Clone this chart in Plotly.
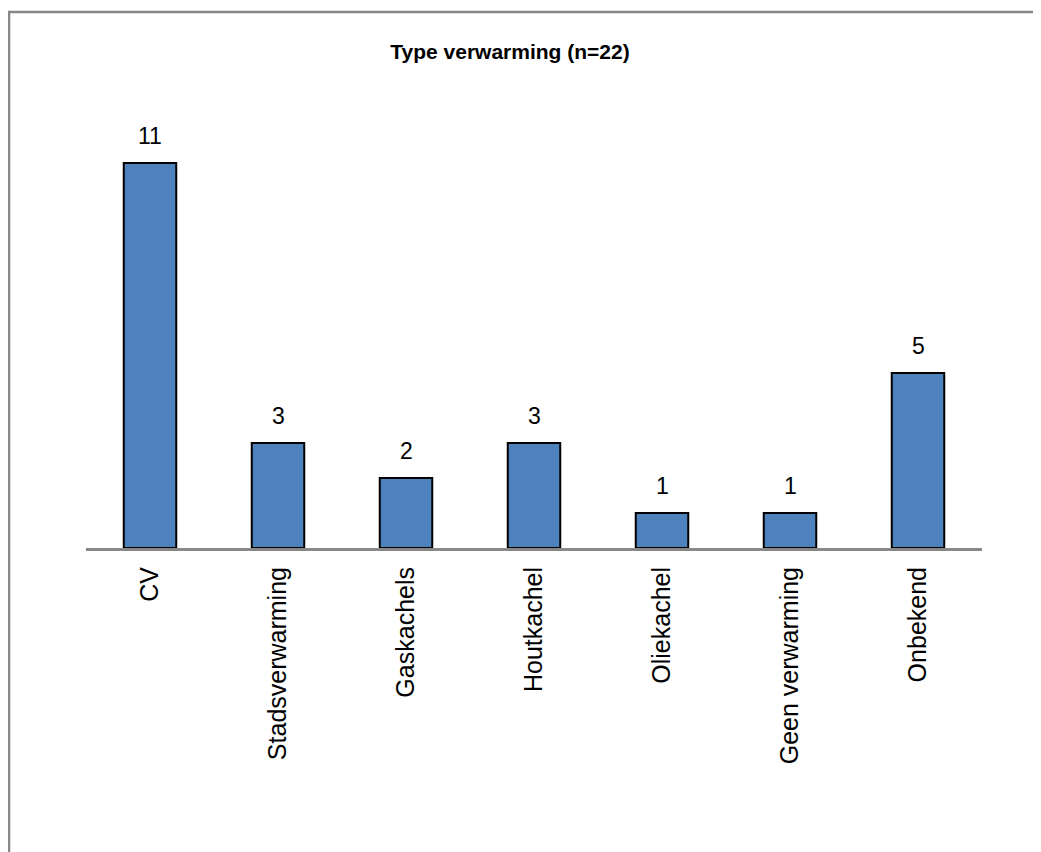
import plotly.graph_objects as go

categories = ["CV", "Stadsverwarming", "Gaskachels", "Houtkachel", "Oliekachel", "Geen verwarming", "Onbekend"]
values = [11, 3, 2, 3, 1, 1, 5]
title_text = "Type verwarming (n=22)"

W, H = 1041, 852
OFF = 8  # page body margin
L, R, T, B = 86 - OFF, 1041 - (982 - OFF), 128 - OFF, 852 - (548 - OFF)
pw, ph = W - L - R, H - T - B

def px_x(px):
    return (px - OFF - L) / pw

def px_y(py):
    return (H - B - (py - OFF)) / ph

FONT = "Liberation Sans, Arial"

fig = go.Figure(go.Bar(
    x=categories, y=values,
    marker=dict(color="#4F81BD", line=dict(color="#000000", width=2)),
    width=0.41,
))

for c, v in zip(categories, values):
    fig.add_annotation(x=c, y=v, text=str(v), showarrow=False,
                       yanchor="bottom", yshift=12,
                       font=dict(family=FONT, size=23, color="#000000"))

fig.update_layout(
    width=W, height=H,
    margin=dict(l=L, r=R, t=T, b=B),
    paper_bgcolor="white", plot_bgcolor="white",
    showlegend=False,
    font=dict(family=FONT, color="#000000"),
    title=dict(text="<b>" + title_text + "</b>", x=(510 - OFF) / W, xanchor="center",
               y=1 - (52 - OFF) / H, yanchor="middle", yref="container",
               font=dict(size=21, family=FONT, color="#000000")),
    xaxis=dict(showline=True, linecolor="#888888", linewidth=3, tickangle=-90,
               ticks="", ticklabelstandoff=6,
               tickfont=dict(size=25, color="#000000"), showgrid=False),
    yaxis=dict(range=[0, 12], visible=False, showgrid=False, zeroline=False),
    shapes=[dict(type="rect", xref="paper", yref="paper",
                 x0=px_x(9), x1=px_x(1100), y0=px_y(900), y1=px_y(12),
                 line=dict(color="#888888", width=2.5), fillcolor="rgba(0,0,0,0)", layer="below")],
)

fig.write_html("out.html")
